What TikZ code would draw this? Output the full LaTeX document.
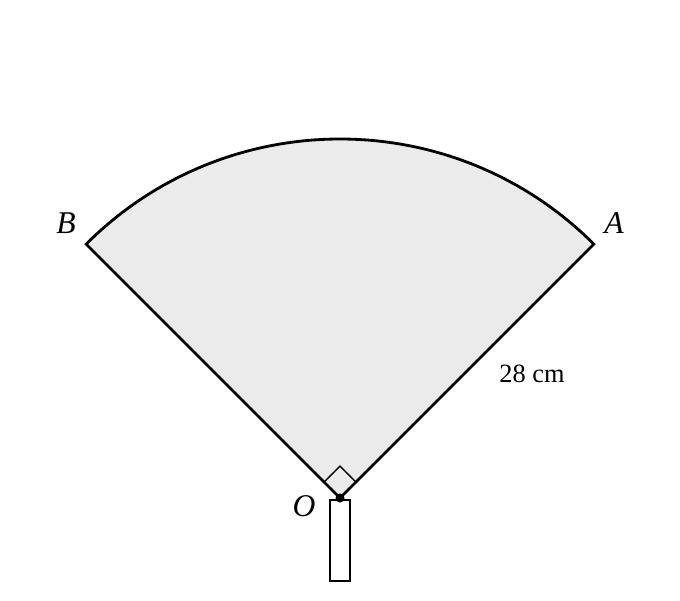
\documentclass[tikz,border=0pt]{standalone}
\usepackage{fontspec}
\setmainfont{Liberation Serif}
\usetikzlibrary{calc}

\begin{document}
\begin{tikzpicture}[x=1cm,y=1cm,
    edge/.style={line width=1.6pt, line join=miter},
    mark/.style={},
    lbl/.style={font=\fontsize{18}{20}\selectfont\itshape},
    len/.style={font=\fontsize{15}{18}\selectfont}]
\def \radius {7.18}
\def \sq {0.45}

\useasboundingbox (-6.8,-2.04) rectangle (6.8,9.96);

% centre and the two ends of the arc
\coordinate (O) at (0,0);
\coordinate (A) at (45:\radius);
\coordinate (B) at (135:\radius);

% the sector
\fill[black!8] (O) -- (A) arc (45:135:\radius) -- cycle;
\draw[edge] (O) -- (A) arc (45:135:\radius) -- cycle;

% right angle at O
\coordinate (p) at (45:\sq);
\coordinate (q) at (135:\sq);
\draw[line width=0.8pt] (p) -- ($(p)+(q)$) -- (q);

% handle
\node (handle) [draw, line width=1.3pt, minimum width=0.4cm, minimum height=1.62cm,
    inner sep=0pt, anchor=north] at (0,-0.02) {};
\fill (O) circle (0.09);

% labels
\node (lA) [lbl] at (5.48,5.5) {A};
\node (lB) [lbl] at (-5.48,5.5) {B};
\node (lO) [lbl] at (-0.72,-0.16) {O};
\node (lr) [len] at (3.84,2.48) {28 cm};

\end{tikzpicture}
\end{document}
